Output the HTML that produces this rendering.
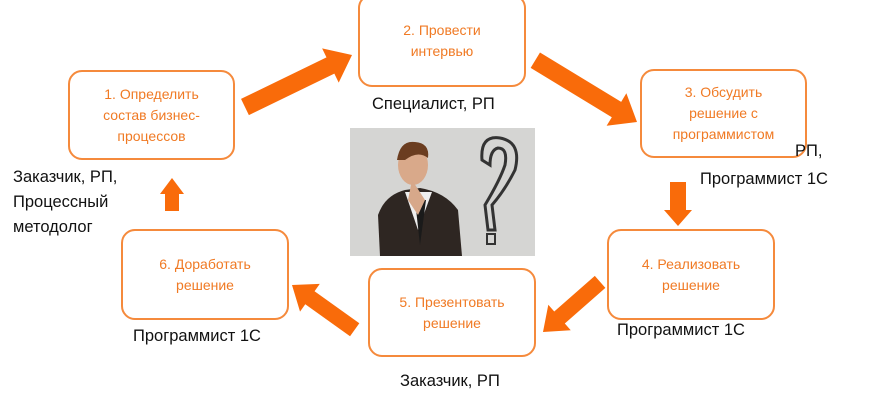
<!DOCTYPE html>
<html><head><meta charset="utf-8"><style>
html,body{margin:0;padding:0;background:#fff;width:870px;height:400px;overflow:hidden;position:relative;font-family:"Liberation Sans","DejaVu Sans",sans-serif}
.box{position:absolute;border:2px solid #f58a3c;border-radius:14px;box-sizing:border-box;display:flex;align-items:center;justify-content:center;text-align:center;color:#f07a24;font-size:14px;line-height:21px;background:#fff}
.lbl{position:absolute;color:#111;font-size:16.5px;line-height:25px;white-space:nowrap}
svg{position:absolute;left:0;top:0}
</style></head><body>
<svg width="870" height="400">
<g fill="#f96b0a">
<g transform="translate(352,55) rotate(-25.9)"><polygon points="-119,-9 -24,-9 -24,-19 0,0 -24,19 -24,9 -119,9"/></g>
<g transform="translate(637,122) rotate(31.3)"><polygon points="-119,-9 -24,-9 -24,-19 0,0 -24,19 -24,9 -119,9"/></g>
<polygon points="670,182 686,182 686,210 692,210 678,226 664,210 670,210"/>
<g transform="translate(543,332) rotate(138.7)"><polygon points="-76,-8 -22,-8 -22,-17 0,0 -22,17 -22,8 -76,8"/></g>
<g transform="translate(292,285) rotate(215.5)"><polygon points="-77,-8 -22,-8 -22,-17 0,0 -22,17 -22,8 -77,8"/></g>
<polygon points="165,211 179,211 179,194 184,194 172,178 160,194 165,194"/>
</g>
<g>
<rect x="350" y="128" width="185" height="128" fill="#c9c9c7"/>
<rect x="350" y="128" width="185" height="128" fill="#e2e2df" opacity="0.5"/>
<path d="M380,256 L378,215 Q385,195 405,190 L420,188 Q445,192 458,210 L462,256 Z" fill="#2e2622"/>
<path d="M405,192 L418,230 L432,192 Z" fill="#eee"/>
<path d="M415,200 L420,245 L426,200 Z" fill="#1a1a1a"/>
<ellipse cx="413" cy="165" rx="15" ry="20" fill="#d9a98a"/>
<path d="M397,160 Q400,140 415,142 Q430,143 428,158 Q418,150 405,160 Z" fill="#6b3d20"/>
<path d="M412,180 L425,200 L418,215 L408,200 Z" fill="#d7a88a"/>
<path d="M482,160 Q480,135 500,138 Q522,142 515,170 Q505,190 492,205 L495,230 L488,230 L485,205 Q500,180 505,165 Q508,148 498,148 Q490,150 490,165 Z" fill="none" stroke="#333" stroke-width="3"/>
<rect x="487" y="234" width="8" height="10" fill="none" stroke="#333" stroke-width="2"/>
</g>
</svg>
<div class="box" style="left:68px;top:70px;width:167px;height:90px">1. Определить<br>состав бизнес-<br>процессов</div>
<div class="box" style="left:358px;top:-6px;width:168px;height:93px">2. Провести<br>интервью</div>
<div class="box" style="left:640px;top:69px;width:167px;height:89px">3. Обсудить<br>решение с<br>программистом</div>
<div class="box" style="left:607px;top:229px;width:168px;height:91px">4. Реализовать<br>решение</div>
<div class="box" style="left:368px;top:268px;width:168px;height:89px">5. Презентовать<br>решение</div>
<div class="box" style="left:121px;top:229px;width:168px;height:91px">6. Доработать<br>решение</div>
<div class="lbl" style="left:372px;top:92px">Специалист, РП</div>
<div class="lbl" style="left:795px;top:139px">РП,</div>
<div class="lbl" style="left:700px;top:167px">Программист 1С</div>
<div class="lbl" style="left:13px;top:165px">Заказчик, РП,</div>
<div class="lbl" style="left:13px;top:190px">Процессный</div>
<div class="lbl" style="left:13px;top:215px">методолог</div>
<div class="lbl" style="left:133px;top:324px">Программист 1С</div>
<div class="lbl" style="left:617px;top:318px">Программист 1С</div>
<div class="lbl" style="left:400px;top:369px">Заказчик, РП</div>
</body></html>
